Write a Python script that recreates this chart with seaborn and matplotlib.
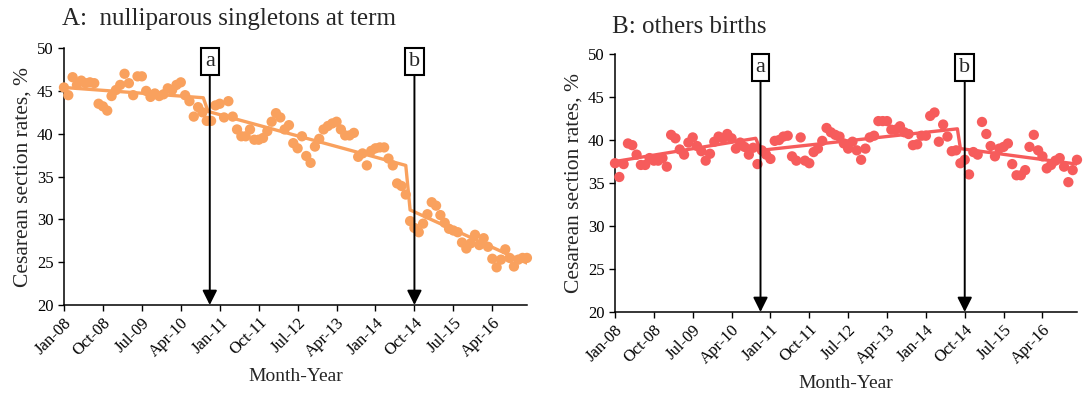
import numpy as np
import pandas as pd
import matplotlib
matplotlib.use("Agg")
import matplotlib.pyplot as plt
import seaborn as sns

# monthly caesarean section rates, Jan-08 .. Dec-16 (108 months)
rates_a = [45.4, 44.5, 46.6, 45.7, 46.2, 45.9, 46.0, 45.9, 43.5, 43.2,
           42.7, 44.4, 45.1, 45.7, 47.0, 45.9, 44.5, 46.7, 46.7, 45.0,
           44.3, 44.7, 44.4, 44.6, 45.3, 45.1, 45.7, 46.0, 44.5, 43.8,
           42.0, 43.1, 42.5, 41.5, 41.5, 43.3, 43.5, 41.9, 43.8, 42.0,
           40.5, 39.7, 39.7, 40.5, 39.3, 39.3, 39.5, 40.3, 41.4, 42.4,
           41.9, 40.5, 41.0, 38.9, 38.3, 39.7, 37.4, 36.6, 38.5, 39.4,
           40.5, 40.9, 41.2, 41.4, 40.5, 39.8, 39.8, 40.1, 37.3, 37.7,
           36.3, 38.0, 38.3, 38.4, 38.4, 37.1, 36.3, 34.2, 33.9, 32.9,
           29.8, 29.0, 28.5, 29.5, 30.6, 32.0, 31.6, 30.5, 29.6, 28.9,
           28.7, 28.5, 27.3, 26.6, 27.2, 28.2, 27.0, 27.8, 26.8, 25.4,
           24.4, 25.3, 26.5, 25.5, 24.5, 25.3, 25.5, 25.5]

rates_b = [37.3, 35.7, 37.2, 39.6, 39.4, 38.3, 37.1, 37.1, 37.9, 37.6,
           37.6, 37.9, 36.9, 40.6, 40.2, 38.9, 38.3, 39.7, 40.3, 39.3,
           38.7, 37.6, 38.4, 39.8, 40.4, 40.2, 40.7, 40.2, 39.0, 39.7,
           39.2, 38.3, 39.1, 37.2, 38.8, 38.3, 37.8, 39.9, 40.0, 40.4,
           40.5, 38.1, 37.6, 40.3, 37.6, 37.3, 38.6, 39.0, 39.9, 41.4,
           40.9, 40.6, 40.4, 39.6, 39.0, 39.8, 38.8, 37.7, 39.0, 40.3,
           40.5, 42.2, 42.2, 42.2, 41.2, 41.2, 41.6, 40.9, 40.7, 39.4,
           39.5, 40.5, 40.5, 42.8, 43.2, 39.8, 41.8, 40.4, 38.7, 38.8,
           37.3, 37.7, 36.0, 38.6, 38.3, 42.1, 40.7, 39.3, 38.1, 39.0,
           39.2, 39.6, 37.2, 35.9, 35.9, 36.5, 39.2, 40.6, 38.8, 38.1,
           36.7, 37.1, 37.6, 37.9, 36.9, 35.1, 36.5, 37.7]

# segmented trend lines (month index, rate)
trend_a_month = [0, 32.2, 33.3, 79, 80, 107]
trend_a_rate = [45.4, 44.2, 42.6, 36.3, 31.1, 24.9]
trend_b_month = [0, 32.6, 33.7, 79.3, 80, 107]
trend_b_rate = [37.5, 40.2, 38.8, 41.3, 39.0, 37.2]

# interventions
arrow_months = [33.7, 81]
arrow_labels = ["a", "b"]

tick_months = [0, 9, 18, 27, 36, 45, 54, 63, 72, 81, 90, 99]
tick_labels = ["Jan-08", "Oct-08", "Jul-09", "Apr-10", "Jan-11", "Oct-11",
               "Jul-12", "Apr-13", "Jan-14", "Oct-14", "Jul-15", "Apr-16"]

sns.set_style("ticks")
plt.rcParams["font.family"] = ["Liberation Serif", "DejaVu Serif"]

fig = plt.figure(figsize=(10.86, 4.04), dpi=100)
ax_a = fig.add_axes([0.0589, 0.245, 0.4263, 0.636])
ax_b = fig.add_axes([0.5663, 0.2277, 0.4254, 0.6386])

panels = [
    (ax_a, rates_a, trend_a_month, trend_a_rate, "#F9A15E"),
    (ax_b, rates_b, trend_b_month, trend_b_rate, "#F65C5C"),
]

for ax, rates, tm, tr, col in panels:
    df = pd.DataFrame({"month": np.arange(len(rates)), "rate": rates})
    sns.scatterplot(data=df, x="month", y="rate", ax=ax, color=col, s=55,
                    edgecolor="none", clip_on=False, zorder=3)
    tdf = pd.DataFrame({"month": tm, "rate": tr})
    sns.lineplot(data=tdf, x="month", y="rate", ax=ax, color=col, lw=2.4,
                 sort=False, estimator=None, zorder=3)
    for m, lab in zip(arrow_months, arrow_labels):
        ax.annotate(lab, xy=(m, 20), xytext=(m, 48.4), ha="center", va="center",
                    fontsize=16, annotation_clip=False,
                    bbox=dict(boxstyle="square,pad=0.18", fc="white", ec="black", lw=1.5),
                    arrowprops=dict(arrowstyle="-|>", color="black", lw=1.4,
                                    mutation_scale=22, shrinkA=0, shrinkB=0),
                    zorder=5)
    ax.set_xlim(0, 107)
    ax.set_ylim(20, 50)
    ax.set_yticks(range(20, 51, 5))
    ax.set_xticks(tick_months)
    ax.set_xticklabels(tick_labels, rotation=45, ha="right", rotation_mode="anchor")
    ax.tick_params(axis="both", labelsize=12, length=4, width=1, color="black",
                   labelcolor="black")
    ax.tick_params(axis="x", pad=3)
    for sp in ["left", "bottom"]:
        ax.spines[sp].set_color("black")
        ax.spines[sp].set_linewidth(1.1)
    sns.despine(ax=ax)
    ax.set_xlabel("Month-Year", fontsize=14, labelpad=6)
    ax.set_ylabel("Cesarean section rates, %", fontsize=15.5, labelpad=3)

fig.text(62 / 1086, 1 - 19 / 404, "A:  nulliparous singletons at term",
         fontsize=18, va="center", ha="left")
fig.text(612 / 1086, 1 - 27 / 404, "B: others births",
         fontsize=18, va="center", ha="left")

fig.savefig("out.png", dpi=100)
